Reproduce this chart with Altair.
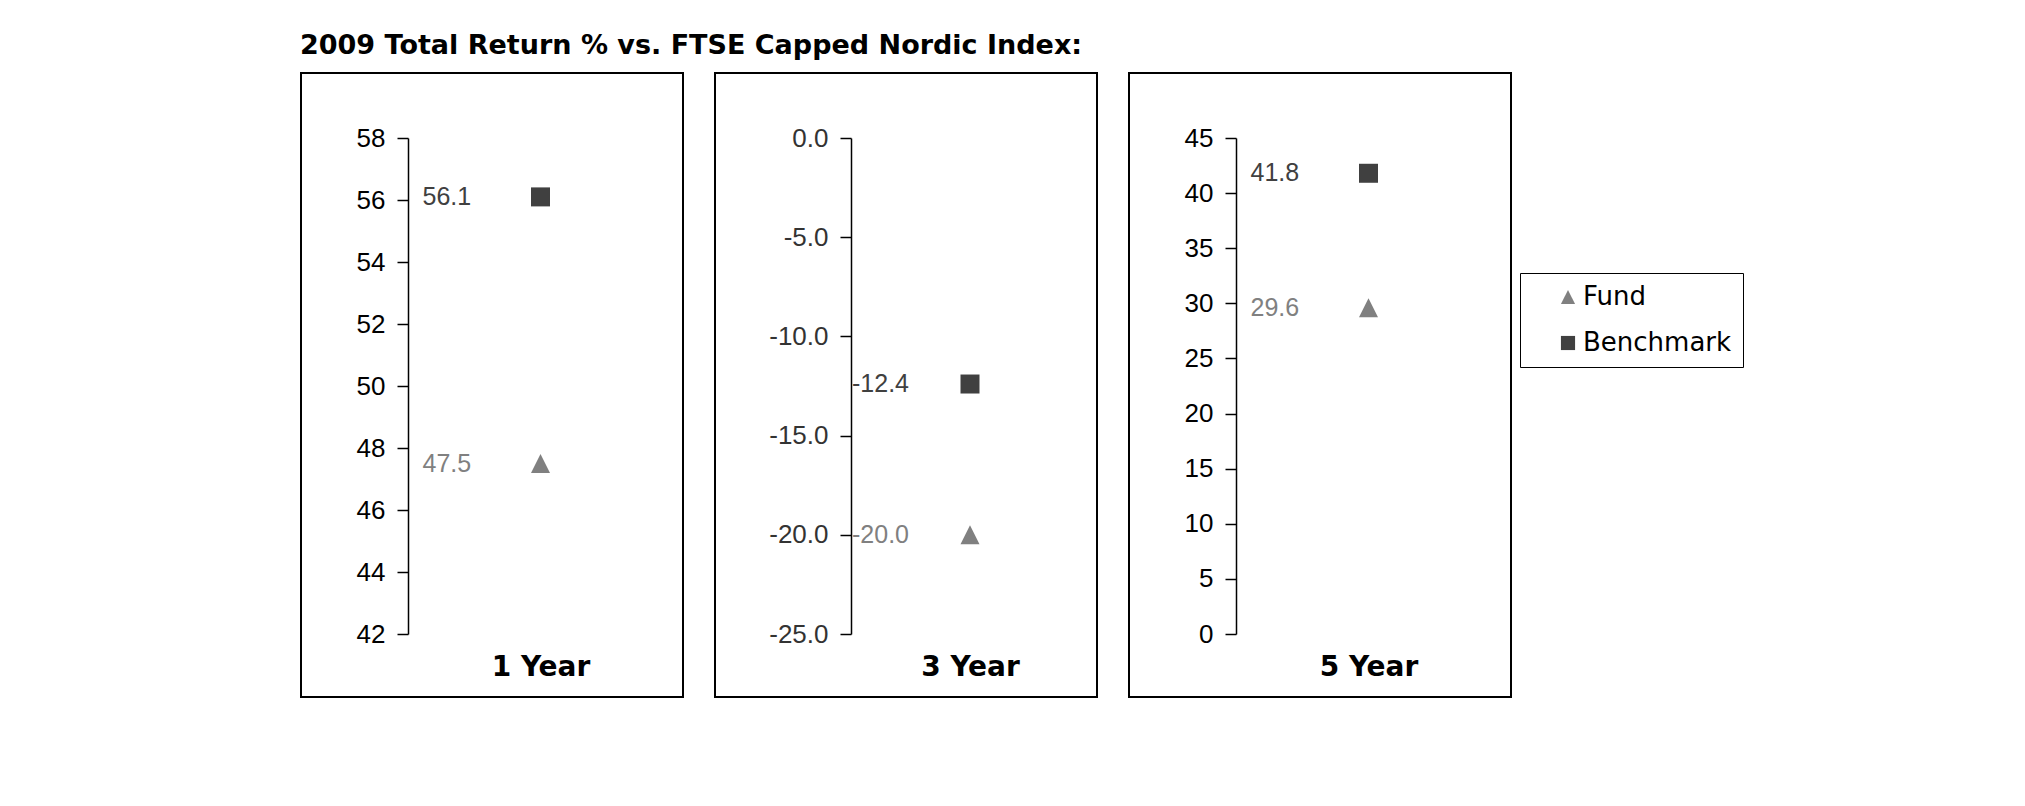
import altair as alt
import pandas as pd

# ---- data ----
periods = ["1 Year", "3 Year", "5 Year"]
series_names = ["Fund", "Benchmark"]
fund_values = [47.5, -20.0, 29.6]
benchmark_values = [56.1, -12.4, 41.8]
y_domains = [[42, 58], [-25, 0], [0, 45]]
y_ticks = [
    [42, 44, 46, 48, 50, 52, 54, 56, 58],
    [-25, -20, -15, -10, -5, 0],
    [0, 5, 10, 15, 20, 25, 30, 35, 40, 45],
]
tick_formats = ["d", ".1f", "d"]
title_text = "2009 Total Return % vs. FTSE Capped Nordic Index:"

# ---- styling ----
series_colors = ["#808080", "#404040"]
tick_label_colors = ["#000000", "#333333", "#000000"]
PANEL_W, PANEL_H = 382, 624
axis_x = [107, 136, 107]
point_x = [239.5, 255, 239.5]
Y_RANGE = [561, 65]
TRI = "M0,-1L1,1L-1,1Z"

rows = []
for p, f, b in zip(periods, fund_values, benchmark_values):
    rows.append({"period": p, "series": "Fund", "value": f})
    rows.append({"period": p, "series": "Benchmark", "value": b})
df = pd.DataFrame(rows)

legend = alt.Legend(
    title=None, orient="none", legendX=1219, legendY=200,
    strokeColor="black", fillColor="white", padding=11,
    symbolOffset=24, labelOffset=2, rowPadding=20,
    labelFont="DejaVu Sans", labelFontSize=26, labelColor="black",
    symbolSize=200, symbolStrokeWidth=0,
)
color_scale = alt.Scale(domain=series_names, range=series_colors)
shape_scale = alt.Scale(domain=series_names, range=[TRI, "square"])


def panel(i):
    base = alt.Chart(df).transform_filter(alt.datum.period == periods[i])
    xscale = alt.Scale(type="point", domain=[periods[i]],
                       range=[point_x[i] - 40, point_x[i] + 40])
    yscale = alt.Scale(domain=y_domains[i], range=Y_RANGE, nice=False, zero=False)
    x_ax = alt.X("period:N", scale=xscale, axis=alt.Axis(
        title=None, orient="bottom", domain=False, ticks=False, grid=False,
        labelPadding=0, offset=-30, labelBaseline="middle", labelAngle=0,
        labelFont="DejaVu Sans", labelFontWeight="bold", labelFontSize=28,
        labelColor="black"))
    y_ax = alt.Y("value:Q", scale=yscale, axis=alt.Axis(
        title=None, values=y_ticks[i], format=tick_formats[i], offset=-axis_x[i],
        tickSize=11, labelPadding=12, domainColor="black", tickColor="black",
        domainWidth=1.5, tickWidth=1.5, grid=False, labelFlush=False,
        labelOverlap=False, labelFont="Liberation Sans", labelFontSize=26,
        labelColor=tick_label_colors[i]))
    pts = base.mark_point(filled=True, size=361, opacity=1).encode(
        x=x_ax, y=y_ax,
        shape=alt.Shape("series:N", scale=shape_scale, legend=legend),
        color=alt.Color("series:N", scale=color_scale, legend=legend),
    )
    txt = base.mark_text(align="left", dx=-118, baseline="middle",
                         font="Liberation Sans", fontSize=25).encode(
        x=x_ax, y=y_ax,
        text=alt.Text("value:Q", format=".1f"),
        color=alt.Color("series:N", scale=color_scale, legend=legend),
    )
    return alt.layer(pts, txt).properties(width=PANEL_W, height=PANEL_H)


chart = (
    alt.hconcat(*[panel(i) for i in range(3)], spacing=30)
    .resolve_scale(x="independent", y="independent", color="shared", shape="shared")
    .resolve_axis(x="independent", y="independent")
    .properties(
        title=alt.Title(title_text, anchor="start", font="DejaVu Sans",
                        fontSize=27, fontWeight="bold", color="black", offset=12),
        padding={"left": 300, "top": 32, "right": 0, "bottom": 0},
        background="white",
    )
    .configure(locale={"number": {"decimal": ".", "thousands": ",",
                                  "grouping": [3], "currency": ["$", ""],
                                  "minus": "-"}})
    .configure_view(stroke="black", strokeWidth=2)
)

chart.save("out.html", embed_options={"renderer": "svg", "actions": False})
